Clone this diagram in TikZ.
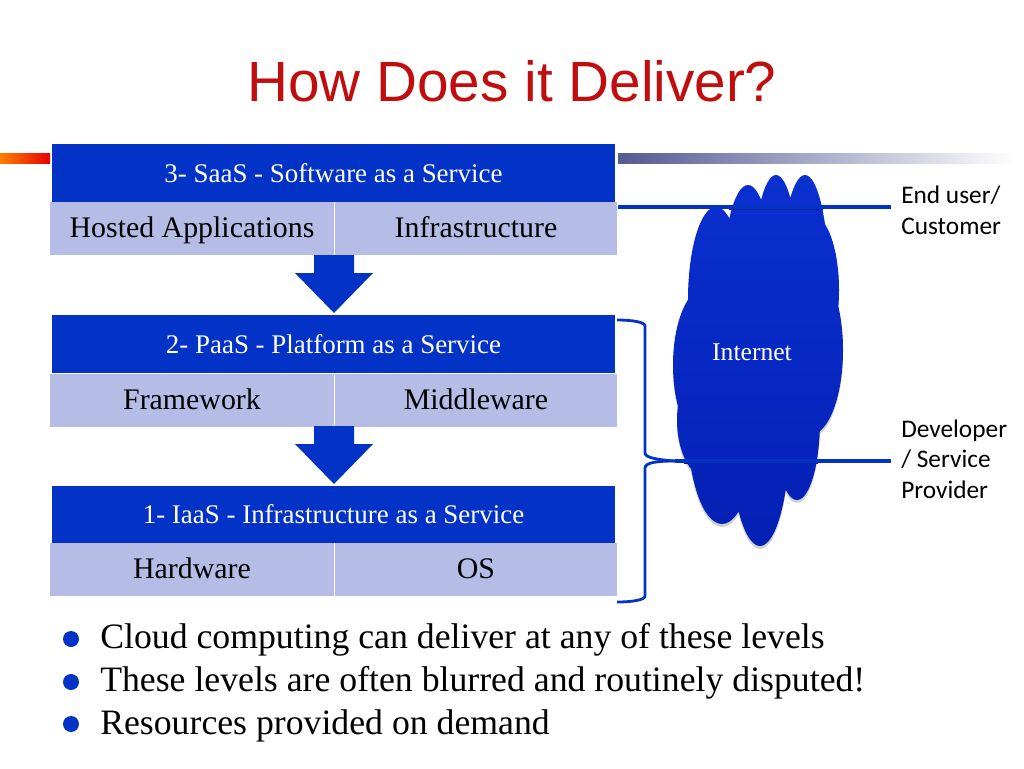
\documentclass[tikz,border=0pt]{standalone}
\usepackage{fontspec}
\setmainfont{Liberation Serif}
\newfontfamily\titlefont{Liberation Sans}
\newfontfamily\sidefont{Carlito}
\definecolor{cloudtop}{HTML}{0A30D0}
\definecolor{cloudbottom}{HTML}{0420B4}
\definecolor{headblue}{HTML}{0333C6}
\definecolor{rowblue}{HTML}{B5BDE6}
\definecolor{titlered}{HTML}{C00D0D}
\definecolor{barblue}{HTML}{555A92}
\definecolor{lineshade}{HTML}{0620A0}
\newcommand{\cloudpath}{(716,300) ellipse (28 and 93) (748,285) ellipse (25 and 100) (776,280) ellipse (23 and 105) (805,285) ellipse (24 and 110) (812,290) ellipse (27 and 75) (810,350) ellipse (33 and 85) (705,365) ellipse (32 and 77) (710,420) ellipse (33 and 60) (722,420) ellipse (35 and 104) (760,430) ellipse (30 and 116) (797,420) ellipse (23 and 80) (755,360) ellipse (60 and 120)}
\tikzset{
headcell/.style={fill=headblue,text=white,inner sep=0pt,minimum width=422.25pt,minimum height=43.5pt,font=\fontsize{20.2}{24}\selectfont},
rowcell/.style={fill=rowblue,text=black,inner sep=0pt,minimum height=39.75pt,text height=17.5pt,text depth=3.5pt,font=\fontsize{22.4}{27}\selectfont},
sidelabel/.style={inner sep=0pt,anchor=west,align=left,font=\sidefont\fontsize{19}{23}\selectfont},
bullettext/.style={inner sep=0pt,anchor=west,font=\fontsize{26.8}{32}\selectfont},
bulletdot/.style={circle,fill=headblue,inner sep=0pt,minimum size=12pt},
linkline/.style={draw=headblue,line width=2.6pt},
}
\begin{document}
\begin{tikzpicture}[x=0.75pt,y=-0.75pt]
\useasboundingbox (0,0) rectangle (1024,768);
\fill [white] (0,0) rectangle (1024,768);
\shade [left color=orange,right color=red!90!black] (0,153) rectangle (50,163);
\shade [left color=barblue,right color=white] (618,153) rectangle (1015,163);
\node [inner sep=0pt,text=titlered,font=\titlefont\fontsize{42.5}{51}\selectfont] (title) at (512,81) {How Does it Deliver?};
\fill [black!18,yshift=-2.25pt] \cloudpath;
\shade [top color=cloudtop,bottom color=cloudbottom] \cloudpath;
\node [inner sep=0pt,text=white,font=\fontsize{19.2}{23}\selectfont] (internet) at (752,352) {Internet};
\node [rowcell,minimum width=213pt] (hosted) at (192,228.5) {Hosted Applications};
\node [rowcell,minimum width=211.5pt] (infra) at (476,228.5) {Infrastructure};
\node [headcell] (saas) at (333.5,173) {3- SaaS - Software as a Service};
\node [rowcell,minimum width=213pt] (frame) at (192,400) {Framework};
\node [rowcell,minimum width=211.5pt] (middle) at (476,400) {Middleware};
\node [headcell] (paas) at (333.5,344) {2- PaaS - Platform as a Service};
\node [rowcell,minimum width=213pt] (hard) at (192,569.5) {Hardware};
\node [rowcell,minimum width=211.5pt] (os) at (476,569.5) {OS};
\node [headcell,minimum height=42.75pt] (iaas) at (333.5,514.5) {1- IaaS - Infrastructure as a Service};
\draw [white,line width=0.8pt] (hosted.north east) -- (hosted.south east);
\draw [white,line width=0.8pt] (frame.north east) -- (frame.south east);
\draw [white,line width=0.8pt] (hard.north east) -- (hard.south east);
\fill [headblue] (314,255) -- (354,255) -- (354,273) -- (373,273) -- (334,313) -- (295,273) -- (314,273) -- cycle;
\fill [headblue] (314,426) -- (354,426) -- (354,444) -- (373,444) -- (334,484) -- (295,444) -- (314,444) -- cycle;
\coordinate (userend) at (891,207);
\coordinate (devend) at (891,461);
\coordinate (tipA) at (618,207);
\coordinate (tipB) at (675,461);
\draw [linkline] (tipA) -- (userend);
\draw [linkline] (tipB) -- (devend);
\draw [draw=lineshade,line width=1pt] (729,209.5) -- (823,209.5);
\draw [draw=lineshade,line width=1pt] (684,463.5) -- (818,463.5);
\draw [linkline,line width=2.1pt] (617,320) .. controls (632,320) and (645,322) .. (645,326) -- (645,453) .. controls (645,458) and (660,460) .. (tipB);
\draw [linkline,line width=2.1pt] (tipB) .. controls (660,461) and (645,462) .. (645,468) -- (645,596) .. controls (645,600) and (632,602) .. (617,602);
\node [sidelabel] (user) at (901,210) {End user/\\Customer};
\node [sidelabel] (dev) at (901,459) {Developer\\/ Service\\Provider};
\node [bulletdot] (dotA) at (71,639) {};
\node [bulletdot] (dotB) at (71,682) {};
\node [bulletdot] (dotC) at (71,724) {};
\node [bullettext] (textA) at (100,640) {Cloud computing can deliver at any of these levels};
\node [bullettext] (textB) at (100,683) {These levels are often blurred and routinely disputed!};
\node [bullettext] (textC) at (100,725.5) {Resources provided on demand};
\end{tikzpicture}
\end{document}
